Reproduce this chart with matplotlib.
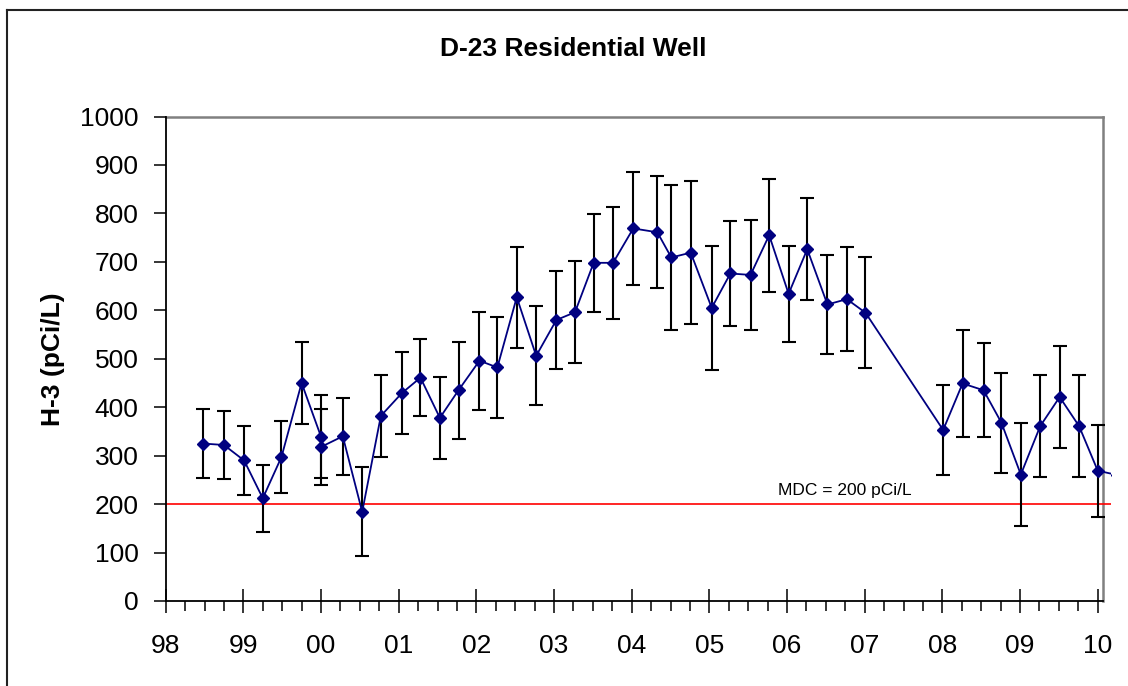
import matplotlib
matplotlib.use("Agg")
import matplotlib.pyplot as plt
from matplotlib.lines import Line2D
import numpy as np

plt.rcParams['font.family'] = ['Liberation Sans', 'DejaVu Sans']

# decimal year of each sample (the last one lies just past the axis end)
dates = [1998.48, 1998.75, 1999.01, 1999.25, 1999.49, 1999.75, 2000.00, 2000.00,
         2000.28, 2000.53, 2000.77, 2001.04, 2001.28, 2001.53, 2001.77, 2002.04,
         2002.27, 2002.52, 2002.77, 2003.03, 2003.27, 2003.51, 2003.76, 2004.02,
         2004.33, 2004.51, 2004.76, 2005.03, 2005.27, 2005.53, 2005.77, 2006.02,
         2006.26, 2006.52, 2006.77, 2007.01, 2008.01, 2008.26, 2008.53, 2008.76,
         2009.01, 2009.26, 2009.51, 2009.76, 2010.00, 2010.25]
h3 = [325, 322, 290, 212, 297, 450, 339, 318,
      340, 184, 382, 429, 461, 378, 435, 496,
      482, 627, 506, 580, 596, 698, 698, 769,
      761, 709, 719, 605, 676, 673, 755, 634,
      726, 612, 623, 595, 353, 449, 435, 368,
      261, 361, 421, 361, 269, 260]
# +/- uncertainty of the visible samples
err = [72, 71, 71, 69, 75, 84, 86, 78,
       80, 92, 85, 85, 80, 85, 100, 101,
       105, 104, 102, 101, 105, 101, 115, 116,
       116, 150, 147, 128, 108, 114, 117, 99,
       105, 103, 107, 115, 93, 110, 97, 103,
       106, 105, 106, 106, 95]
year_labels = ['98', '99', '00', '01', '02', '03', '04', '05', '06', '07', '08', '09', '10']
mdc = 200
title = 'D-23 Residential Well'
ylabel = 'H-3 (pCi/L)'

W, H = 1128, 686
fig = plt.figure(figsize=(W / 100, H / 100), dpi=100)
ax_left, ax_right, ax_bot, ax_top = 165.7, 1111.0, 601.0, 116.5
ax = fig.add_axes([ax_left / W, (H - ax_bot) / H, (ax_right - ax_left) / W, (ax_bot - ax_top) / H])

x_end = 2010.064
ax.set_xlim(1998, 2010.171)
ax.set_ylim(0, 1000)

# MDC line
ax.axhline(mdc, color='#ff0000', lw=1.2, zorder=2)

n = len(err)
ax.errorbar(dates[:n], h3[:n], yerr=err, fmt='none',
            ecolor='black', elinewidth=1.5, capsize=4.7, capthick=1.5, zorder=3)
ax.plot(dates, h3, '-', color='#000080', lw=1.3,
        marker='D', ms=6.2, mfc='#000080', mec='#000080', zorder=4)

ax.text(2005.887, 229, 'MDC = 200 pCi/L', fontsize=12.5, va='center', ha='left')

# spines
for s in ['top', 'right']:
    ax.spines[s].set_visible(False)
ax.spines['left'].set_color('black')
ax.spines['bottom'].set_color('black')
ax.spines['left'].set_linewidth(1.3)
ax.spines['bottom'].set_linewidth(1.3)
ax.spines['bottom'].set_bounds(1998, x_end)
ax.plot([1998, x_end], [1000, 1000], color='#808080', lw=1.8, clip_on=False, zorder=1)
ax.plot([x_end, x_end], [0, 1000], color='#808080', lw=1.8, clip_on=False, zorder=1)

years = np.arange(1998, 2011)
ax.set_xticks(years)
ax.set_xticklabels(year_labels)
ax.set_xticks(np.arange(1998, 2010.01, 0.25), minor=True)
ax.set_yticks(np.arange(0, 1001, 100))
ax.tick_params(axis='x', which='major', direction='inout', length=17, width=1.1,
               labelsize=19, pad=15)
ax.tick_params(axis='x', which='minor', direction='out', length=7, width=1.1)
ax.tick_params(axis='y', which='major', direction='out', length=9, width=1.1,
               labelsize=19, pad=10.5)

ax.set_ylabel(ylabel, fontsize=19, fontweight='bold', labelpad=11)

fig.text(573.4 / W, 1 - 49 / H, title, fontsize=19, fontweight='bold',
         ha='center', va='center')

# outer chart frame (left and top edges)
fig.add_artist(Line2D([7 / W, 7 / W], [0, 1 - 10 / H], color='#222222', lw=1.5,
                      transform=fig.transFigure))
fig.add_artist(Line2D([7 / W, 1], [1 - 10 / H, 1 - 10 / H], color='#222222', lw=1.5,
                      transform=fig.transFigure))

fig.savefig('out.png', dpi=100)
